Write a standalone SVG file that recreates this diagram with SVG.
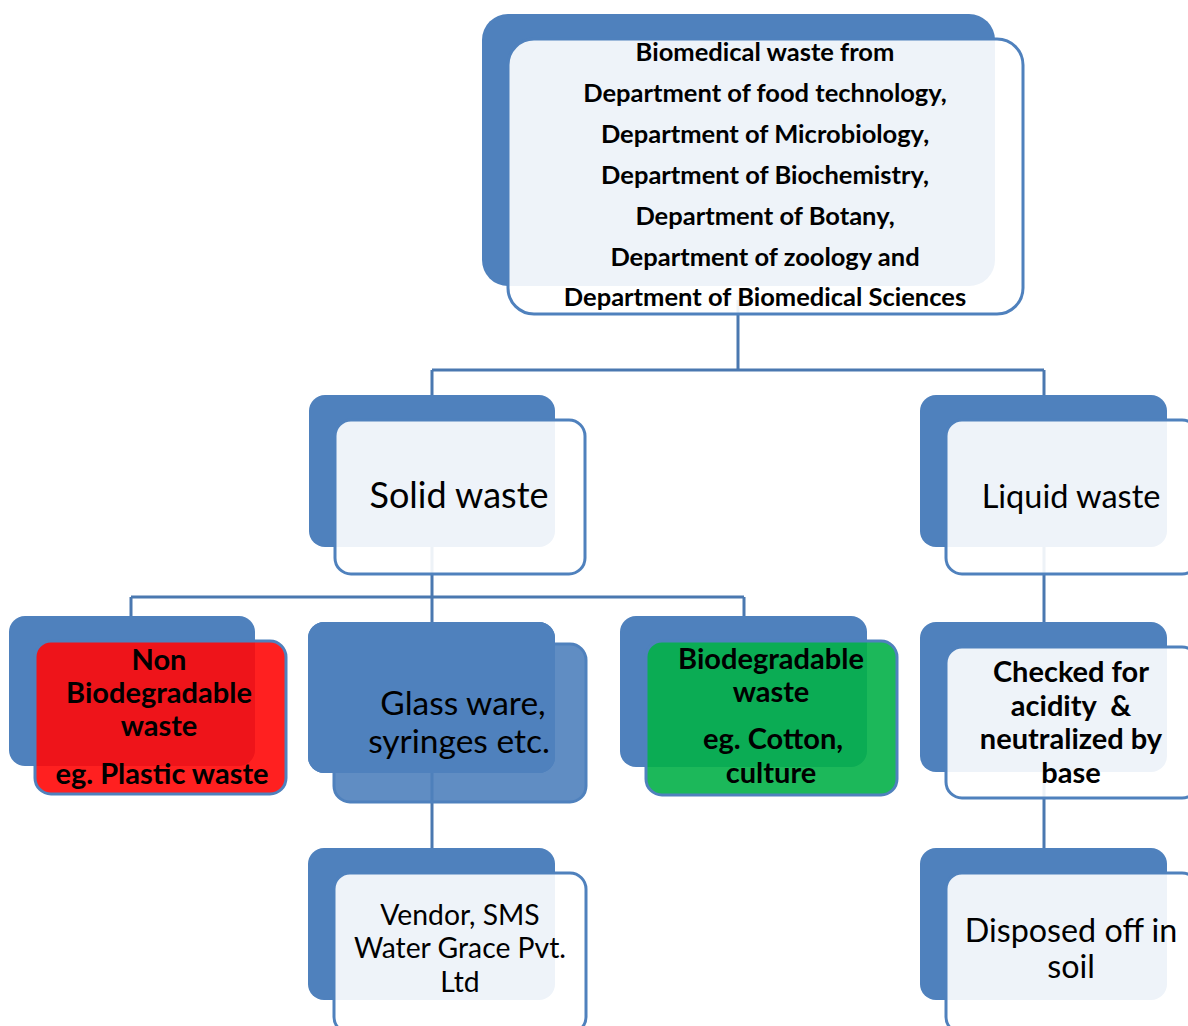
<svg xmlns="http://www.w3.org/2000/svg" width="1188" height="1026" viewBox="0 0 1188 1026">
<style>
.back{fill:#4F81BD}
.front{fill:#FFFFFF;fill-opacity:0.9;stroke:#4F81BD;stroke-width:3}
.fblue{fill:#4F81BD;fill-opacity:0.9;stroke:#4F81BD;stroke-width:3}
.fred{fill:#FF0808;fill-opacity:0.9;stroke:#4F81BD;stroke-width:3}
.fgreen{fill:#03B048;fill-opacity:0.9;stroke:#4F81BD;stroke-width:3}
.conn{stroke:#4A78B0;stroke-width:3;fill:none}
text{font-family:Lato,"Open Sans","Liberation Sans",sans-serif;fill:#000;text-anchor:middle}
.b{font-weight:bold}
</style>
<rect width="1188" height="1026" fill="#FFFFFF"/>
<g id="connectors">
<path class="conn" d="M738 300 V370 M432 370 H1044 M432 370 V480 M1044 370 V480"/>
<path class="conn" d="M432 480 V597 M131 597 H744 M131 597 V700 M744 597 V700 M432 597 V930"/>
<path class="conn" d="M1044 480 V930"/>
</g>
<g id="n-top">
<rect class="back" x="482" y="14" width="513" height="272" rx="26"/>
<rect class="front" x="508" y="39" width="515" height="275" rx="26"/>
<g class="b" font-size="25.5">
<text x="765" y="61">Biomedical waste from</text>
<text x="765" y="102">Department of food technology,</text>
<text x="765" y="143">Department of Microbiology,</text>
<text x="765" y="184">Department of Biochemistry,</text>
<text x="765" y="225">Department of Botany,</text>
<text x="765" y="266">Department of zoology and</text>
<text x="765" y="306">Department of Biomedical Sciences</text>
</g>
</g>
<g id="n-solid">
<rect class="back" x="309" y="395" width="246" height="152" rx="16"/>
<rect class="front" x="335" y="420" width="250" height="154" rx="16"/>
<text x="459" y="508" font-size="36">Solid waste</text>
</g>
<g id="n-liquid">
<rect class="back" x="920" y="395" width="247" height="152" rx="16"/>
<rect class="front" x="946" y="420" width="252" height="154" rx="16"/>
<text x="1071" y="508" font-size="32.5">Liquid waste</text>
</g>
<g id="n-nonbio">
<rect class="back" x="9" y="616" width="246" height="150" rx="16"/>
<rect class="fred" x="35" y="641" width="251" height="153" rx="16"/>
<g class="b" font-size="29">
<text x="159" y="670">Non</text>
<text x="159" y="703">Biodegradable</text>
<text x="159" y="736">waste</text>
<text x="162" y="784">eg. Plastic waste</text>
</g>
</g>
<g id="n-glass">
<rect class="back" x="308" y="622" width="247" height="151" rx="16"/>
<rect class="fblue" x="334" y="644" width="252" height="158" rx="16"/>
<rect class="back" x="308" y="622" width="247" height="151" rx="16"/>
<text x="463" y="715" font-size="33.5">Glass ware,</text>
<text x="459" y="753" font-size="33.5">syringes etc.</text>
</g>
<g id="n-bio">
<rect class="back" x="620" y="616" width="247" height="151" rx="16"/>
<rect class="fgreen" x="646" y="641" width="251" height="154" rx="16"/>
<g class="b" font-size="29">
<text x="771" y="669">Biodegradable</text>
<text x="771" y="702">waste</text>
<text x="773" y="749">eg. Cotton,</text>
<text x="771" y="783">culture</text>
</g>
</g>
<g id="n-checked">
<rect class="back" x="920" y="622" width="247" height="150" rx="16"/>
<rect class="front" x="946" y="647" width="252" height="151" rx="16"/>
<g class="b" font-size="29">
<text x="1071" y="682">Checked for</text>
<text x="1071" y="716" xml:space="preserve">acidity  &amp;</text>
<text x="1071" y="749">neutralized by</text>
<text x="1071" y="783">base</text>
</g>
</g>
<g id="n-vendor">
<rect class="back" x="308" y="848" width="247" height="152" rx="16"/>
<rect class="front" x="334" y="873" width="252" height="160" rx="16"/>
<g font-size="28.3">
<text x="460" y="925">Vendor, SMS</text>
<text x="460" y="958">Water Grace Pvt.</text>
<text x="460" y="992">Ltd</text>
</g>
</g>
<g id="n-disposed">
<rect class="back" x="920" y="848" width="247" height="152" rx="16"/>
<rect class="front" x="946" y="873" width="252" height="160" rx="16"/>
<g font-size="32.3">
<text x="1071" y="942">Disposed off in</text>
<text x="1071" y="978">soil</text>
</g>
</g>
</svg>
